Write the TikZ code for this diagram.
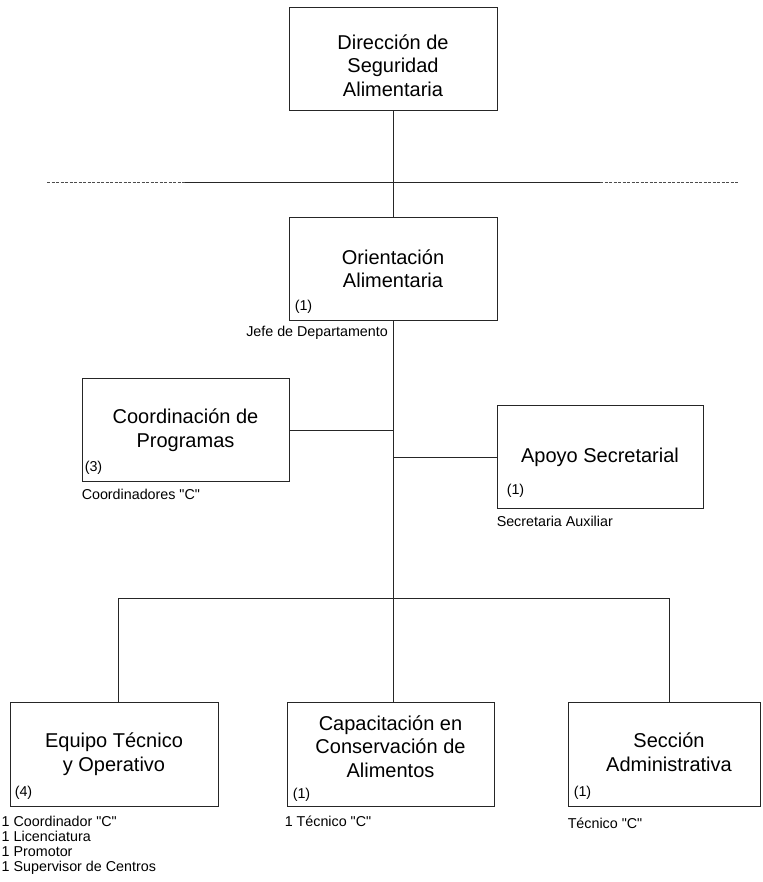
\documentclass[tikz,border=0pt]{standalone}
\usepackage{fontspec}
\setmainfont{Liberation Sans}[Ligatures=TeXOff]
\usetikzlibrary{calc}
\tikzset{
  unitbox/.style={draw=black!85, line width=0.9pt, minimum height=103pt, inner sep=0pt,
    font=\fontsize{20}{23.5}\selectfont, align=center},
  title/.style={font=\fontsize{20}{23.5}\selectfont, align=center, inner sep=0pt},
  tag/.style={font=\fontsize{14.3}{15}\selectfont, inner sep=0pt, align=left},
  link/.style={black!85, line width=0.9pt},
  dashlink/.style={black!70, line width=0.9pt, dash pattern=on 3pt off 1.5pt}
}
\begin{document}
\begin{tikzpicture}[x=1pt, y=-1pt]
   \useasboundingbox (0,0) rectangle (762,882);
   % Top of the chart
   \node[unitbox, minimum width=208pt] (dir) at (393,58.5) {};
   \node[title] (dirT) at ([yshift=-7pt]dir.center) {Dirección de\\Seguridad\\Alimentaria};
   \node[unitbox, minimum width=208pt] (ori) at (393,268.5) {Orientación\\Alimentaria};
   \node[tag, anchor=south west] (oriN) at ([xshift=6pt,yshift=7pt]ori.south west) {(1)};
   \node[tag, anchor=north east] (oriP) at ([xshift=-5pt,yshift=-5pt]ori.south) {Jefe de Departamento};
   % Staff line under the direction
   \coordinate (lineL) at (47,182);
   \coordinate (lineA) at (185,182);
   \coordinate (lineB) at (600,182);
   \coordinate (lineR) at (738,182);
   \draw[dashlink] (lineL) -- (lineA);
   \draw[link] (lineA) -- (lineB);
   \draw[dashlink] (lineB) -- (lineR);
   \draw[link] (dir.south) -- (ori.north);

   % Side units
   \node[unitbox, minimum width=207pt] (coord) at (185.5,430) {Coordinación de\\Programas};
   \node[tag, anchor=south west] (coordN) at ([xshift=3pt,yshift=7pt]coord.south west) {(3)};
   \node[tag, anchor=north west] (coordP) at ([yshift=-7pt]coord.south west) {Coordinadores "C"};
   \node[unitbox, minimum width=206pt] (apoyo) at (600,457) {Apoyo Secretarial};
   \node[tag, anchor=south west] (apoyoN) at ([xshift=10pt,yshift=11pt]apoyo.south west) {(1)};
   \node[tag, anchor=north west] (apoyoP) at ([yshift=-7pt]apoyo.south west) {Secretaria Auxiliar};
   \draw[link] (coord.east) -- (coord.east -| ori.south);
   \draw[link] (apoyo.west) -- (apoyo.west -| ori.south);

   % Bottom row
   \node[unitbox, minimum width=208pt, minimum height=104pt] (equipo) at (114,754) {Equipo Técnico\\y Operativo};
   \node[tag, anchor=south west] (equipoN) at ([xshift=5pt,yshift=7pt]equipo.south west) {(4)};
   \node[tag, anchor=north west] (equipoP) at ([xshift=-8pt,yshift=-9pt]equipo.south west)
      {1 Coordinador "C"\\1 Licenciatura\\1 Promotor\\1 Supervisor de Centros};
   \node[unitbox, minimum width=207pt, minimum height=104pt] (capac) at (390.5,754) {};
   \node[title] (capacT) at ([yshift=7.5pt]capac.center) {Capacitación en\\Conservación de\\Alimentos};
   \node[tag, anchor=south west] (capacN) at ([xshift=6pt,yshift=5pt]capac.south west) {(1)};
   \node[tag, anchor=north west] (capacP) at ([xshift=-2pt,yshift=-9pt]capac.south west) {1 Técnico "C"};
   \node[unitbox, minimum width=192pt, minimum height=104pt] (secc) at (664,754) {};
   \node[title] (seccT) at ([xshift=5pt,yshift=2pt]secc.center) {Sección\\Administrativa};
   \node[tag, anchor=south west] (seccN) at ([xshift=6pt,yshift=7pt]secc.south west) {(1)};
   \node[tag, anchor=north west] (seccP) at ([yshift=-11pt]secc.south west) {Técnico "C"};
   % Bus to the bottom row
   \coordinate (busL) at (118,598);
   \coordinate (busR) at (669,598);
   \draw[link] (ori.south) -- (ori.south |- capac.north);
   \draw[link] (busL) -- (busR);
   \draw[link] (busL) -- (busL |- equipo.north);
   \draw[link] (busR) -- (busR |- secc.north);
\end{tikzpicture}
\end{document}
